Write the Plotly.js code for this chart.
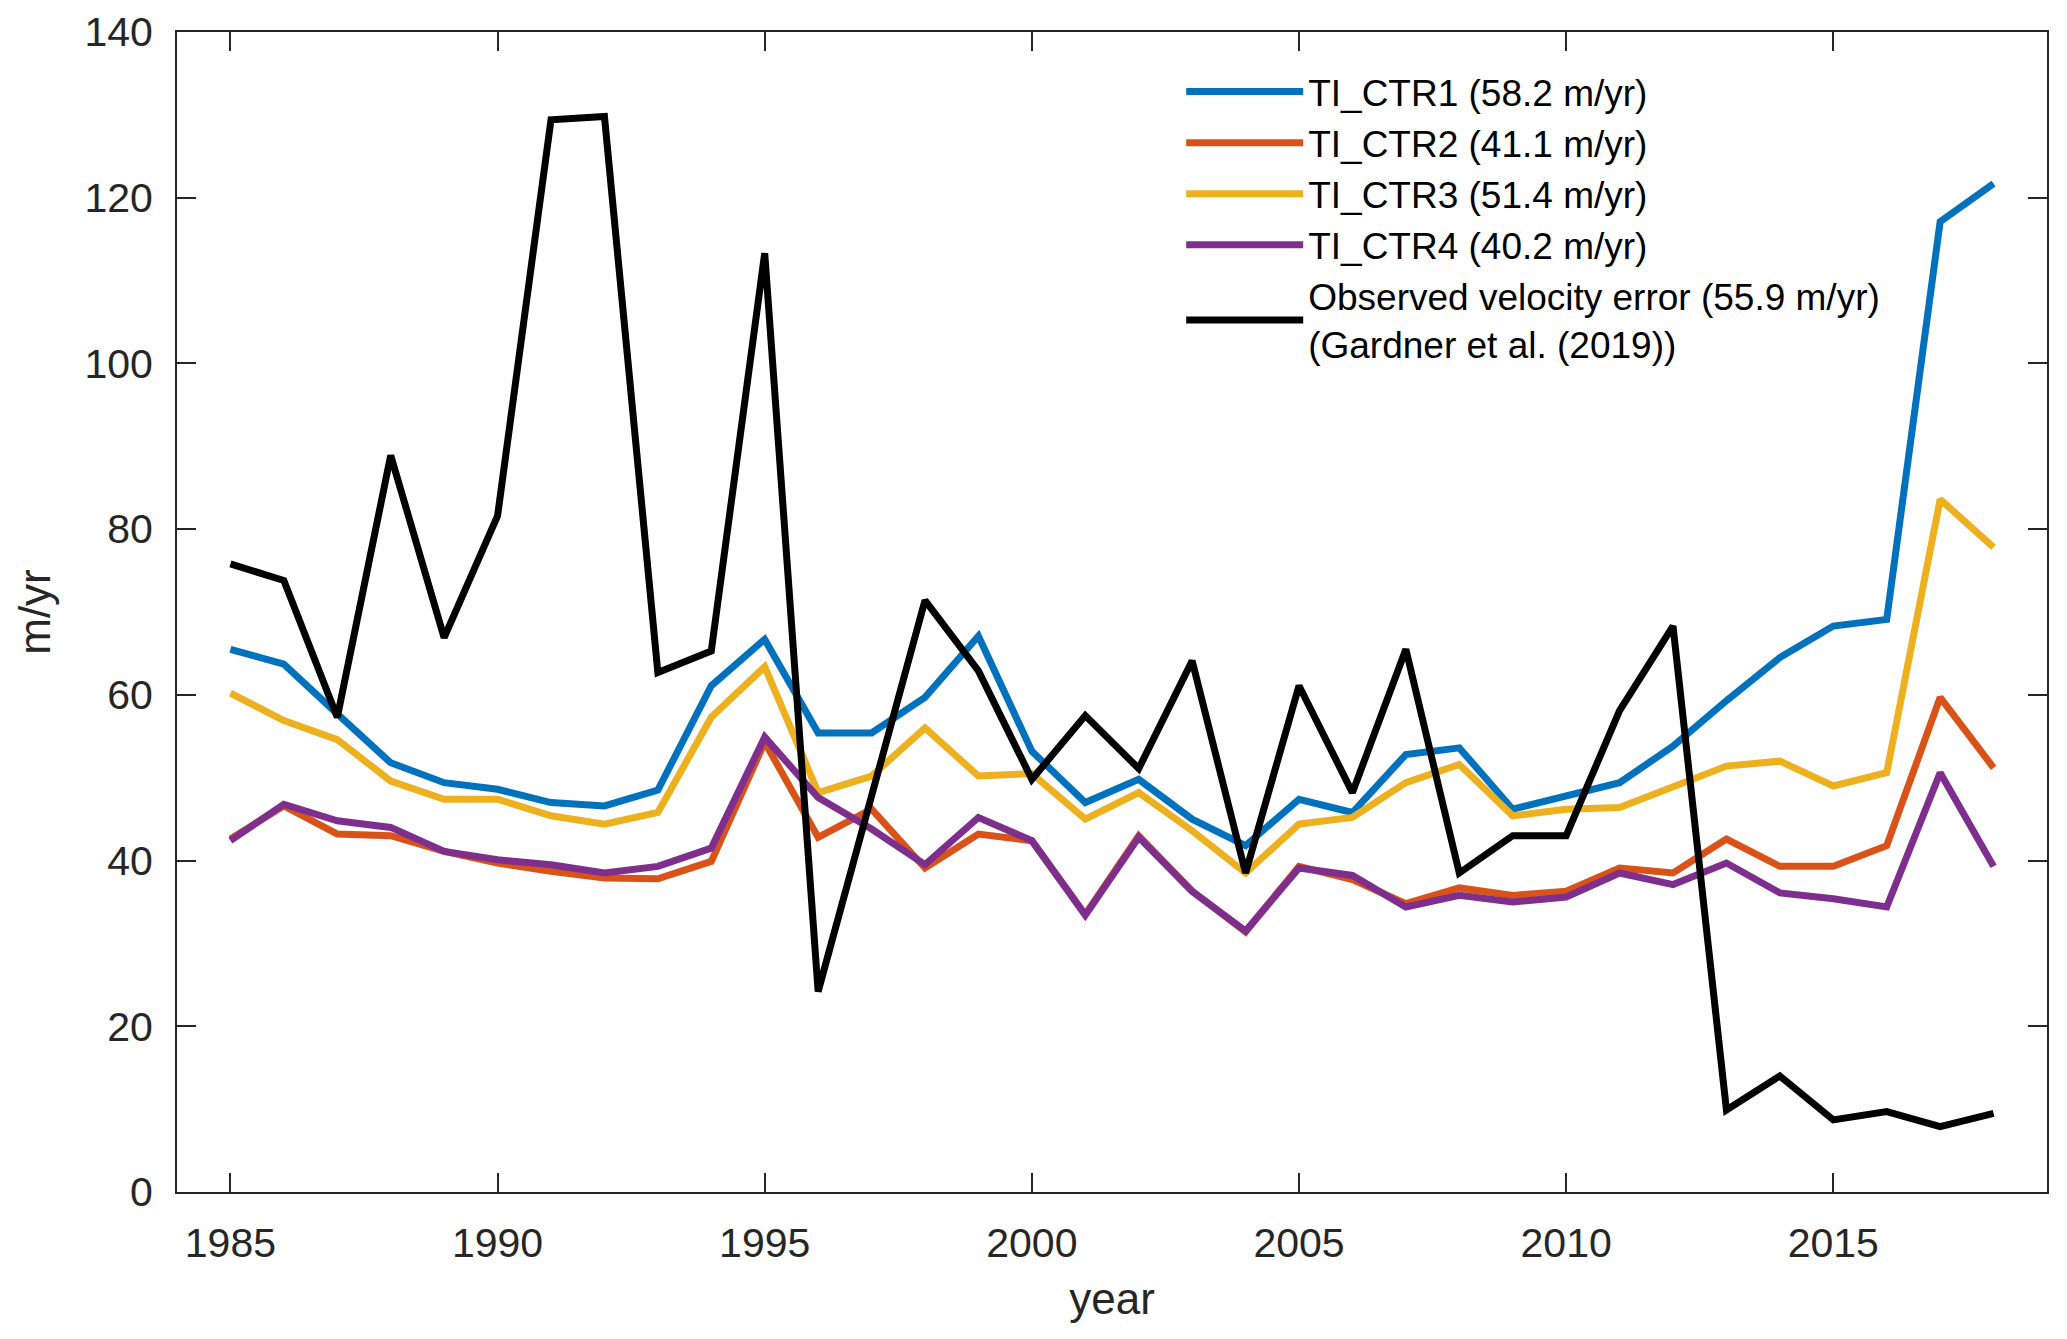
<!DOCTYPE html>
<html>
<head>
<meta charset="utf-8">
<script src="https://cdn.plot.ly/plotly-3.0.1.min.js"></script>
<style>
html,body{margin:0;padding:0;background:#fff;}
#chart{width:2067px;height:1339px;}
</style>
</head>
<body>
<div id="chart"></div>
<script>
var years = [1985,1986,1987,1988,1989,1990,1991,1992,1993,1994,1995,1996,1997,1998,1999,2000,2001,2002,2003,2004,2005,2006,2007,2008,2009,2010,2011,2012,2013,2014,2015,2016,2017,2018];

var ctr1 = [65.5,63.7,57.7,51.8,49.4,48.6,47.0,46.6,48.5,61.1,66.7,55.4,55.4,59.7,67.1,53.2,47.0,49.8,45.0,41.8,47.4,45.8,52.8,53.6,46.2,47.8,49.4,53.8,59.3,64.5,68.3,69.1,117.1,121.7];
var ctr2 = [42.6,46.6,43.2,43.0,41.1,39.7,38.7,37.9,37.8,39.9,54.3,42.8,46.2,39.1,43.2,42.4,33.5,43.0,36.3,31.4,39.3,37.7,34.8,36.7,35.8,36.3,39.1,38.5,42.6,39.3,39.3,41.8,59.7,51.2];
var ctr3 = [60.2,56.9,54.6,49.6,47.4,47.4,45.4,44.4,45.8,57.3,63.4,48.2,50.2,56.0,50.2,50.5,45.0,48.2,43.6,38.5,44.4,45.2,49.4,51.6,45.4,46.2,46.4,49.0,51.4,52.0,49.0,50.6,83.6,77.8];
var ctr4 = [42.4,46.8,44.8,44.0,41.1,40.1,39.5,38.5,39.3,41.5,54.9,47.6,43.8,39.5,45.2,42.4,33.4,42.8,36.3,31.5,39.1,38.2,34.4,35.8,35.0,35.6,38.5,37.1,39.7,36.1,35.4,34.4,50.6,39.3];
var observed = [75.8,73.8,57.3,88.9,66.9,81.6,129.4,129.8,62.7,65.3,113.3,24.2,47.8,71.4,62.9,49.8,57.5,51.1,64.1,38.5,61.1,48.2,65.5,38.5,43.0,43.0,58.1,68.3,9.9,14.0,8.7,9.7,7.9,9.5];

var names = ['TI_CTR1 (58.2 m/yr)','TI_CTR2 (41.1 m/yr)','TI_CTR3 (51.4 m/yr)','TI_CTR4 (40.2 m/yr)','Observed velocity error (55.9 m/yr)<br>(Gardner et al. (2019))'];
var colors = ['#0072BD','#D95319','#EDB120','#7E2F8E','#000000'];
var series = [ctr1, ctr2, ctr3, ctr4, observed];

var xTicks = [1985,1990,1995,2000,2005,2010,2015];
var yTicks = [0,20,40,60,80,100,120,140];

var traces = series.map(function(s,i){
  return {x: years, y: s, type:'scatter', mode:'lines', name: names[i],
          line:{color: colors[i], width: 7}};
});

var axisCommon = {
  showgrid:false, zeroline:false, showline:true, mirror:'ticks',
  linecolor:'#262626', linewidth:2, ticks:'inside', ticklen:19, tickwidth:2, tickcolor:'#262626',
  tickfont:{family:'Liberation Sans, Arial, sans-serif', size:41, color:'#262626'}
};

var layout = {
  width:2067, height:1339,
  margin:{l:177, r:20, t:32, b:147},
  paper_bgcolor:'#ffffff', plot_bgcolor:'#ffffff',
  font:{family:'Liberation Sans, Arial, sans-serif', color:'#262626'},
  xaxis: Object.assign({}, axisCommon, {
    range:[1984,2019], tickvals:xTicks, ticktext:xTicks.map(String), ticklabelstandoff:14,
    title:{text:'year', font:{size:44, color:'#262626'}, standoff:18}
  }),
  yaxis: Object.assign({}, axisCommon, {
    range:[0,140], tickvals:yTicks, ticktext:yTicks.map(String), ticklabelstandoff:14,
    title:{text:'m/yr', font:{size:44, color:'#262626'}, standoff:20}
  }),
  showlegend:true,
  legend:{x:0.537, y:0.975, xanchor:'left', yanchor:'top', bgcolor:'rgba(255,255,255,0)',
    borderwidth:0, itemwidth:117, tracegroupgap:0,
    font:{family:'Liberation Sans, Arial, sans-serif', size:37, color:'#000000'}}
};

Plotly.newPlot('chart', traces, layout, {displayModeBar:false, staticPlot:true});
</script>
</body>
</html>
